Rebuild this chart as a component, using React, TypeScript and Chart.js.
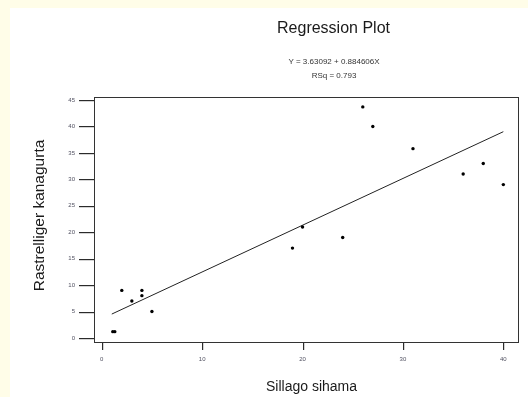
import { useEffect, useRef } from "react";
import { Chart, registerables } from "chart.js";

Chart.register(...registerables);

const sillagoSihama = [1.1, 1.3, 2, 3, 4, 4, 5, 19, 20, 24, 26, 27, 31, 36, 38, 40];
const rastrelligerKanagurta = [1.2, 1.2, 9, 7, 9, 8, 5, 17, 21, 19, 43.7, 40, 35.8, 31, 33, 29];
const fitX = [1, 40];
const fitY = [4.52, 39.01];
const xTickValues = [0, 10, 20, 30, 40];
const yTickValues = [0, 5, 10, 15, 20, 25, 30, 35, 40, 45];
const titleText = "Regression Plot";
const equationText = "Y = 3.63092 + 0.884606X";
const rsqText = "RSq = 0.793";
const xTitle = "Sillago sihama";
const yTitle = "Rastrelliger kanagurta";

const FONT = '"Liberation Sans", Arial, sans-serif';

const frameAndText = {
  id: "frameAndText",
  afterDraw(chart: any) {
    const { ctx, chartArea, scales } = chart;
    ctx.save();
    ctx.strokeStyle = "#333";
    ctx.lineWidth = 1;
    ctx.strokeRect(
      chartArea.left + 0.5,
      chartArea.top + 0.5,
      chartArea.right - chartArea.left - 1,
      chartArea.bottom - chartArea.top - 1
    );
    ctx.restore();

    ctx.save();
    ctx.fillStyle = "#2b2b2b";
    for (const v of xTickValues) {
      const px = Math.round(scales.x.getPixelForValue(v));
      ctx.fillRect(px, chartArea.bottom, 1.2, 7);
    }
    for (const v of yTickValues) {
      const py = Math.round(scales.y.getPixelForValue(v));
      ctx.fillRect(chartArea.left - 15, py, 15, 1.2);
    }
    ctx.restore();

    ctx.save();
    ctx.fillStyle = "#1a1a1a";
    ctx.textAlign = "center";
    ctx.textBaseline = "alphabetic";
    ctx.font = `16px ${FONT}`;
    ctx.fillText(titleText, 333.5, 32.5);
    ctx.font = `8px ${FONT}`;
    ctx.fillStyle = "#333";
    ctx.fillText(equationText, 334, 64);
    ctx.fillText(rsqText, 334, 78);
    ctx.fillStyle = "#1a1a1a";
    ctx.font = `14px ${FONT}`;
    ctx.fillText(xTitle, 311.5, 391);
    ctx.font = `15.5px ${FONT}`;
    ctx.translate(44, 215.5);
    ctx.rotate(-Math.PI / 2);
    ctx.fillText(yTitle, 0, 0);
    ctx.restore();
  },
};

export default function App() {
  const ref = useRef<HTMLCanvasElement>(null);

  useEffect(() => {
    if (!ref.current) return;
    const points = sillagoSihama.map((x, i) => ({ x, y: rastrelligerKanagurta[i] }));
    const line = fitX.map((x, i) => ({ x, y: fitY[i] }));
    const chart = new Chart(ref.current, {
      type: "scatter",
      data: {
        datasets: [
          {
            label: "Observed",
            data: points,
            backgroundColor: "#000",
            borderColor: "#000",
            pointRadius: 1.7,
            pointHoverRadius: 1.7,
            borderWidth: 0,
          },
          {
            label: "Fit",
            type: "line",
            data: line,
            borderColor: "#222",
            borderWidth: 1,
            pointRadius: 0,
            fill: false,
          } as any,
        ],
      },
      options: {
        animation: false,
        responsive: false,
        devicePixelRatio: 1,
        layout: { padding: { left: 0, top: 97, right: 9, bottom: 0 } },
        plugins: {
          legend: { display: false },
          title: { display: false },
          tooltip: { enabled: false },
        },
        scales: {
          x: {
            type: "linear",
            min: -0.77,
            max: 41.56,
            afterFit: (s: any) => {
              s.height = 54;
            },
            afterBuildTicks: (s: any) => {
              s.ticks = xTickValues.map((v) => ({ value: v }));
            },
            grid: { display: false },
            border: { display: false },
            ticks: {
              includeBounds: false,
              padding: 5,
              color: "#505060",
              font: { size: 6, family: FONT },
              maxRotation: 0,
            },
          },
          y: {
            type: "linear",
            min: -0.95,
            max: 45.57,
            afterFit: (s: any) => {
              s.width = 94;
            },
            afterBuildTicks: (s: any) => {
              s.ticks = yTickValues.map((v) => ({ value: v }));
            },
            grid: { display: false },
            border: { display: false },
            ticks: {
              includeBounds: false,
              padding: 11,
              color: "#505060",
              font: { size: 6, family: FONT },
            },
          },
        },
      },
      plugins: [frameAndText],
    });
    return () => chart.destroy();
  }, []);

  return (
    <div style={{ position: "fixed", left: 0, top: 0, width: 528, height: 397, background: "#fffde8" }}>
      <div style={{ position: "absolute", left: 10, top: 8, right: 0, bottom: 0, background: "#fff" }} />
      <canvas ref={ref} width={528} height={397} style={{ position: "absolute", left: 0, top: 0 }} />
    </div>
  );
}
